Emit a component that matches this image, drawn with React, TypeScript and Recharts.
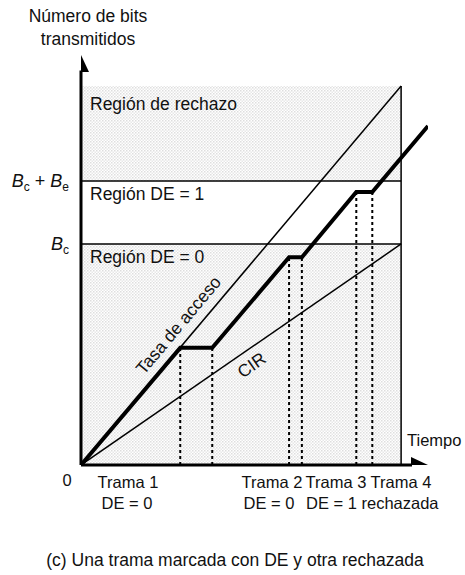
import { ComposedChart, Line, XAxis, YAxis, ReferenceLine, ReferenceArea, Scatter } from "recharts";

// time axis (arbitrary units, 100 = end of the measurement interval)
const TIME_STEPS = [0, 31, 41, 65, 69, 86, 91, 108.4];
const BITS_SENT = [0, 53, 53, 94, 94, 123.5, 123.5, 153.4];
const FRAME_EDGES = [31, 41, 65, 69, 86, 91];
const FRAME_EDGE_BITS = [53, 53, 94, 94, 123.5, 123.5];

const INTERVAL_END = 100;
const BC = 100;
const BC_BE = 128.5;
const ACCESS_RATE_END = 171.5;
const CIR_END = 100;
const X_MAX = 108.4;
const Y_MAX = 185.5;

const thickData = TIME_STEPS.map((x, i) => ({ x, y: BITS_SENT[i] }));
const accessData = [{ x: 0, y: 0 }, { x: INTERVAL_END, y: ACCESS_RATE_END }];
const cirData = [{ x: 0, y: 0 }, { x: INTERVAL_END, y: CIR_END }];

const FONT = "'Liberation Sans', Arial, Helvetica, sans-serif";

const ArrowRight = (p: any) => (
  <polygon points={`${p.cx},${p.cy} ${p.cx - 17},${p.cy - 8} ${p.cx - 17},${p.cy + 8}`} fill="#000" />
);
const ArrowUp = (p: any) => (
  <polygon points={`${p.cx},${p.cy} ${p.cx - 8},${p.cy + 17} ${p.cx + 8},${p.cy + 17}`} fill="#000" />
);

export default function App() {
  const txt = { fontFamily: FONT, fontSize: 17.5, fill: "#111" };
  const small = { ...txt, fontSize: 16.5 };
  return (
    <div style={{ position: "absolute", left: 0, top: 0, width: 465, height: 575, background: "#fff" }}>
      <svg width={0} height={0} style={{ position: "absolute" }}>
        <defs>
          <pattern id="halftone" width="3" height="3" patternUnits="userSpaceOnUse">
            <rect width="3" height="3" fill="#fff" />
            <rect width="1.5" height="1.5" fill="#c8c8c8" />
            <rect x="1.5" y="1.5" width="1.5" height="1.5" fill="#d8d8d8" />
          </pattern>
        </defs>
      </svg>
      <ComposedChart width={465} height={575} margin={{ top: 55, right: 37, bottom: 110, left: 81 }}>
        <XAxis dataKey="x" type="number" domain={[0, X_MAX]} hide allowDataOverflow />
        <YAxis type="number" domain={[0, Y_MAX]} hide allowDataOverflow />

        <ReferenceArea x1={0} x2={INTERVAL_END} y1={0} y2={BC} fill="url(#halftone)" fillOpacity={0.6} stroke="none" ifOverflow="visible" />
        <ReferenceArea x1={0} x2={INTERVAL_END} y1={BC_BE} y2={ACCESS_RATE_END} fill="url(#halftone)" fillOpacity={0.6} stroke="none" ifOverflow="visible" />

        <ReferenceLine segment={[{ x: 0, y: BC }, { x: INTERVAL_END, y: BC }]} stroke="#000" strokeWidth={1.5} ifOverflow="visible" />
        <ReferenceLine segment={[{ x: 0, y: BC_BE }, { x: INTERVAL_END, y: BC_BE }]} stroke="#000" strokeWidth={1.5} ifOverflow="visible" />
        <ReferenceLine segment={[{ x: INTERVAL_END, y: 0 }, { x: INTERVAL_END, y: ACCESS_RATE_END }]} stroke="#000" strokeWidth={1.5} ifOverflow="visible" />

        {FRAME_EDGES.map((fx, i) => (
          <ReferenceLine key={i} segment={[{ x: fx, y: 0 }, { x: fx, y: FRAME_EDGE_BITS[i] }]} stroke="#000" strokeWidth={2} strokeDasharray="3 3" ifOverflow="visible" />
        ))}

        <Line data={accessData} dataKey="y" type="linear" stroke="#000" strokeWidth={1.5} dot={false} isAnimationActive={false} />
        <Line data={cirData} dataKey="y" type="linear" stroke="#000" strokeWidth={1.5} dot={false} isAnimationActive={false} />
        <Line data={thickData} dataKey="y" type="linear" stroke="#000" strokeWidth={4} dot={false} strokeLinejoin="miter" isAnimationActive={false} />

        <ReferenceLine segment={[{ x: 0, y: 0 }, { x: X_MAX - 5, y: 0 }]} stroke="#000" strokeWidth={3} ifOverflow="visible" />
        <ReferenceLine segment={[{ x: 0, y: 0 }, { x: 0, y: Y_MAX - 7 }]} stroke="#000" strokeWidth={3} ifOverflow="visible" />
        <Scatter data={[{ x: X_MAX, y: 0 }]} dataKey="y" shape={ArrowRight} isAnimationActive={false} />
        <Scatter data={[{ x: 0, y: Y_MAX }]} dataKey="y" shape={ArrowUp} isAnimationActive={false} />
      </ComposedChart>

      <svg width={465} height={575} style={{ position: "absolute", left: 0, top: 0, pointerEvents: "none" }}>
        <text {...txt} x={88} y={22} textAnchor="middle">Número de bits</text>
        <text {...txt} x={88} y={45} textAnchor="middle">transmitidos</text>
        <text {...txt} x={90} y={110}>Región de rechazo</text>
        <text {...txt} x={90} y={200}>Región DE = 1</text>
        <text {...txt} x={90} y={263}>Región DE = 0</text>
        <text {...txt} fontSize={18} x={69} y={187} textAnchor="end">
          <tspan fontStyle="italic">B</tspan><tspan fontSize={12} dy={4}>c</tspan>
          <tspan dy={-4}> + </tspan><tspan fontStyle="italic">B</tspan><tspan fontSize={12} dy={4}>e</tspan>
        </text>
        <text {...txt} fontSize={18} x={69} y={250} textAnchor="end">
          <tspan fontStyle="italic">B</tspan><tspan fontSize={12} dy={4}>c</tspan>
        </text>
        <text {...txt} x={0} y={0} textAnchor="middle" transform="translate(183,329) rotate(-50)">Tasa de acceso</text>
        <text {...txt} x={0} y={0} textAnchor="middle" transform="translate(255,370) rotate(-35)">CIR</text>
        <text {...small} x={407} y={446}>Tiempo</text>
        <text {...small} x={67} y={486} textAnchor="middle">0</text>
        <text {...small} x={128} y={488} textAnchor="middle">Trama 1</text>
        <text {...small} x={127} y={509} textAnchor="middle">DE = 0</text>
        <text {...small} x={272} y={488} textAnchor="middle">Trama 2</text>
        <text {...small} x={269} y={509} textAnchor="middle">DE = 0</text>
        <text {...small} x={336} y={488} textAnchor="middle">Trama 3</text>
        <text {...small} x={401} y={488} textAnchor="middle">Trama 4</text>
        <text {...small} x={306} y={509}>DE = 1 rechazada</text>
        <text {...txt} x={235} y={566} textAnchor="middle">(c) Una trama marcada con DE y otra rechazada</text>
      </svg>
    </div>
  );
}
